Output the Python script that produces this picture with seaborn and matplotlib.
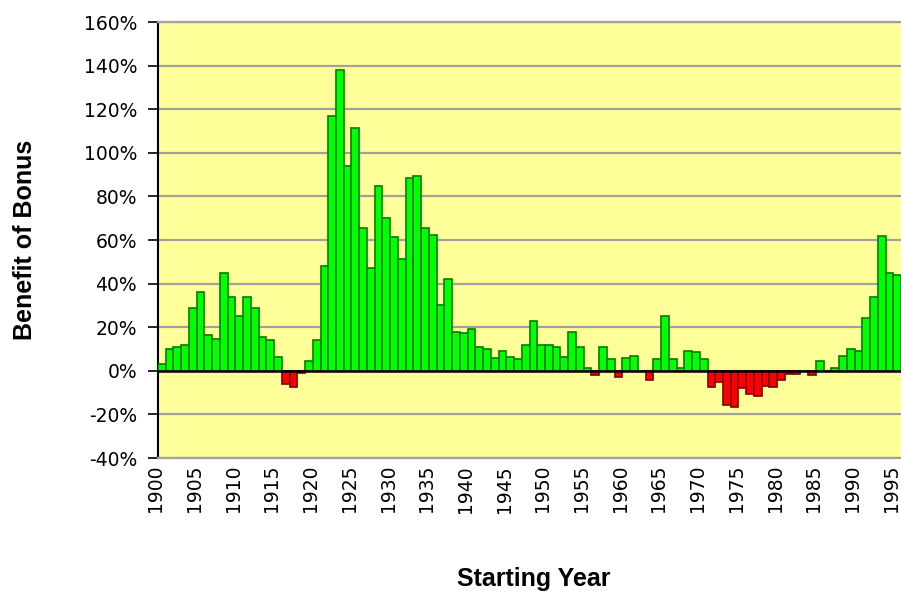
import matplotlib
matplotlib.use("Agg")
import matplotlib.pyplot as plt
import matplotlib.transforms as mtransforms
import seaborn as sns
import pandas as pd
import numpy as np

# ---- data -------------------------------------------------------------
years = list(range(1900, 1996))
benefit_pct = [
    3, 10, 11, 12, 29, 36, 16.5, 14.5, 45, 34,          # 1900-1909
    25, 34, 29, 15.5, 14, 6.5, -6, -7.5, -1, 4.5,       # 1910-1919
    14, 48, 117, 138, 94, 111.5, 65.5, 47, 85, 70,      # 1920-1929
    61.5, 51.5, 88.5, 89.5, 65.5, 62.5, 30, 42, 18, 17.5,  # 1930-1939
    19, 11, 10, 6, 9, 6.5, 5.5, 12, 23, 12,             # 1940-1949
    12, 11, 6.5, 18, 11, 1.5, -2, 11, 5.5, -3,          # 1950-1959
    6, 7, 0, -4, 5.5, 25, 5.5, 1.5, 9, 8.5,             # 1960-1969
    5.5, -7.5, -5, -15.5, -16.5, -8, -10.5, -11.5, -7, -7.5,  # 1970-1979
    -4, -1.5, -1.5, 0, -2, 4.5, 0, 1.5, 7, 10,          # 1980-1989
    9, 24, 34, 62, 45, 44,                              # 1990-1995
]
ytick_values = [-40, -20, 0, 20, 40, 60, 80, 100, 120, 140, 160]
ytick_labels = ["-40%", "-20%", "0%", "20%", "40%", "60%", "80%",
                "100%", "120%", "140%", "160%"]
xtick_years = list(range(1900, 1996, 5))

df = pd.DataFrame({"year": [str(y) for y in years], "benefit": benefit_pct})
df["sign"] = np.where(df["benefit"] < 0, "neg", "pos")

# ---- figure -----------------------------------------------------------
W, H, DPI = 901, 592, 100
fig = plt.figure(figsize=(W / DPI, H / DPI), dpi=DPI, facecolor="white")
ax = fig.add_axes([158 / W, 1 - 458 / H, (901 - 158) / W, (458 - 22) / H])
ax.set_facecolor("#FFFF99")

sns.barplot(data=df, x="year", y="benefit", hue="sign",
            hue_order=["pos", "neg"],
            palette={"pos": "#00FF00", "neg": "#FF0000"},
            saturation=1, dodge=False, width=1.0, legend=False, ax=ax,
            linewidth=1.2, edgecolor="#007F00", zorder=3)
for p in ax.patches:
    fc = p.get_facecolor()
    if fc[0] > 0.5:
        p.set_edgecolor("#7F0000")
    else:
        p.set_edgecolor("#007F00")

ax.axhline(0, color="black", lw=1.8, zorder=4)

ax.set_xlim(-0.5, 95.5)
ax.set_ylim(-40, 160)

# y axis
ax.set_yticks(ytick_values)
ax.set_yticklabels(ytick_labels)
ax.yaxis.grid(True, color="#A0A0A0", lw=1.6, zorder=0)
ax.set_axisbelow(True)
ax.tick_params(axis="y", direction="out", length=7, width=1.2,
               color="black", pad=8, labelsize=13.5, labelcolor="black")

# x axis
ax.set_xticks([y - years[0] for y in xtick_years])
ax.set_xticklabels([str(y) for y in xtick_years], rotation=90)
ax.tick_params(axis="x", length=0, pad=5, labelsize=13.5, labelcolor="black")
offset = mtransforms.ScaledTranslation(-6 / DPI, 0, fig.dpi_scale_trans)
for lab in ax.get_xticklabels():
    lab.set_transform(lab.get_transform() + offset)
    lab.set_fontfamily("DejaVu Sans")
for lab in ax.get_yticklabels():
    lab.set_fontfamily("DejaVu Sans")

ax.set_xlabel("")
ax.set_ylabel("")

ax.spines["right"].set_visible(False)
ax.spines["left"].set_color("black")
ax.spines["left"].set_linewidth(1.5)
ax.spines["top"].set_color("#A0A0A0")
ax.spines["top"].set_linewidth(1.6)
ax.spines["bottom"].set_color("#A0A0A0")
ax.spines["bottom"].set_linewidth(1.6)

fig.text(25 / W, 1 - 240 / H, "Benefit of Bonus", rotation=90,
         ha="center", va="center", fontsize=18, fontweight="bold",
         family="Liberation Sans")
fig.text(534 / W, 1 - 579 / H, "Starting Year", ha="center", va="center",
         fontsize=18, fontweight="bold", family="Liberation Sans")

fig.savefig("out.png", dpi=DPI, facecolor="white")
